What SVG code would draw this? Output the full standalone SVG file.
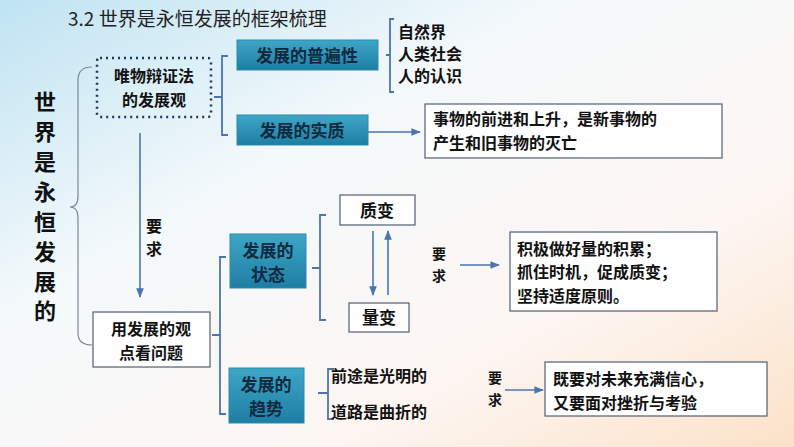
<svg xmlns="http://www.w3.org/2000/svg" width="794" height="447" viewBox="0 0 794 447">
<defs>
<linearGradient id="bg" x1="0" y1="0" x2="1" y2="1">
<stop offset="0" stop-color="#bfe3f2"/><stop offset="0.35" stop-color="#f4f9fb"/><stop offset="0.7" stop-color="#fdf6f3"/><stop offset="1" stop-color="#fbe2c8"/>
</linearGradient>
<linearGradient id="tb" x1="0" y1="0" x2="0" y2="1">
<stop offset="0" stop-color="#3fa6c6"/><stop offset="1" stop-color="#1d7ea4"/>
</linearGradient>
<marker id="ar" viewBox="0 0 10 10" refX="9" refY="5" markerWidth="6" markerHeight="6" orient="auto"><path d="M0,1 L10,5 L0,9 z" fill="#4a76b0"/></marker>
<style>
text{font-family:"Noto Sans CJK SC","Liberation Sans",sans-serif;font-weight:bold;fill:#111;font-size:16px}
.tb{fill:url(#tb);stroke:#2a8ab0;stroke-width:1}
.wb{fill:#fff;stroke:#506070;stroke-width:1.2}
.br{fill:none;stroke:#4a76b0;stroke-width:1.8}
.ln{stroke:#4a76b0;stroke-width:1.6;fill:none}
.tt{fill:#102a40;font-size:17px}
.v{font-size:22px}
</style>
</defs>
<rect width="794" height="447" fill="url(#bg)"/>
<text x="68" y="26" style="font-weight:normal;font-size:19px;fill:#222">3.2 世界是永恒发展的框架梳理</text>
<g id="root"><text class="v" x="34" y="110">世</text><text class="v" x="34" y="140">界</text><text class="v" x="34" y="170">是</text><text class="v" x="34" y="200">永</text><text class="v" x="34" y="230">恒</text><text class="v" x="34" y="260">发</text><text class="v" x="34" y="290">展</text><text class="v" x="34" y="319">的</text></g>
<g id="connectors">
<path class="br" style="stroke:#7a8a9a;stroke-width:1.2" d="M92,67 Q78,67 78,80 L78,196 Q78,207 70,207 Q78,207 78,218 L78,333 Q78,345 92,345"/>
<path class="br" d="M228,56 L222,56 L222,135 L228,135 M222,97 L214,97"/>
<path class="br" d="M394,19 L390,19 L390,92 L394,92 M390,55 L386,55"/>
<path class="br" d="M226,257 L220,257 L220,414 L226,414 M220,335 L212,335"/>
<path class="br" d="M326,215 L320,215 L320,320 L326,320 M320,268 L312,268"/>
<path class="br" d="M334,369 L328,369 L328,419 L334,419 M328,393 L318,393"/>
<line class="ln" x1="368" y1="132" x2="420" y2="132" marker-end="url(#ar)"/>
<line class="ln" x1="140" y1="133" x2="140" y2="297" marker-end="url(#ar)"/>
<line class="ln" x1="373" y1="231" x2="373" y2="295" marker-end="url(#ar)"/>
<line class="ln" x1="388" y1="295" x2="388" y2="231" marker-end="url(#ar)"/>
<line class="ln" x1="460" y1="265" x2="499" y2="265" marker-end="url(#ar)"/>
<line class="ln" x1="505" y1="390" x2="543" y2="390" marker-end="url(#ar)"/>
</g>
<g id="n1"><rect x="97" y="58" width="114" height="59" rx="3" fill="none" stroke="#1a3a5a" stroke-width="2.5" stroke-dasharray="2,4"/><text x="154" y="82" text-anchor="middle">唯物辩证法</text><text x="154" y="106" text-anchor="middle">的发展观</text></g>
<g id="n2"><rect class="tb" x="237" y="40" width="141" height="30"/><text class="tt" x="307" y="62" text-anchor="middle">发展的普遍性</text></g>
<g id="n3"><text x="398" y="38">自然界</text><text x="398" y="60">人类社会</text><text x="398" y="82">人的认识</text></g>
<g id="n4"><rect class="tb" x="237" y="115" width="131" height="30"/><text class="tt" x="302" y="137" text-anchor="middle">发展的实质</text></g>
<g id="n5"><rect class="wb" x="425" y="104" width="297" height="54"/><text x="433" y="125">事物的前进和上升，是新事物的</text><text x="433" y="149">产生和旧事物的灭亡</text></g>
<g id="n6"><text x="146" y="232">要</text><text x="146" y="255">求</text></g>
<g id="n7"><rect class="wb" x="93" y="312" width="117" height="55"/><text x="151" y="335" text-anchor="middle">用发展的观</text><text x="151" y="359" text-anchor="middle">点看问题</text></g>
<g id="n8"><rect class="tb" x="230" y="234" width="76" height="54"/><text class="tt" x="268" y="257" text-anchor="middle">发展的</text><text class="tt" x="268" y="281" text-anchor="middle">状态</text></g>
<g id="n9"><rect class="tb" x="229" y="368" width="75" height="55"/><text class="tt" x="266" y="391" text-anchor="middle">发展的</text><text class="tt" x="266" y="415" text-anchor="middle">趋势</text></g>
<g id="n10"><rect class="wb" x="340" y="195" width="75" height="30"/><text x="377" y="217" text-anchor="middle" style="font-size:17px">质变</text></g>
<g id="n11"><rect class="wb" x="349" y="303" width="60" height="29"/><text x="379" y="324" text-anchor="middle" style="font-size:17px">量变</text></g>
<g id="n12"><text x="432" y="259" style="font-size:14px">要</text><text x="432" y="281" style="font-size:14px">求</text></g>
<g id="n13"><rect class="wb" x="510" y="232" width="207" height="79"/><text x="517" y="255">积极做好量的积累；</text><text x="517" y="278">抓住时机，促成质变；</text><text x="517" y="302">坚持适度原则。</text></g>
<g id="n14"><text x="331" y="382">前途是光明的</text><text x="331" y="418">道路是曲折的</text></g>
<g id="n15"><text x="488" y="383" style="font-size:14px">要</text><text x="488" y="405" style="font-size:14px">求</text></g>
<g id="n16"><rect class="wb" x="545" y="362" width="222" height="54"/><text x="553" y="385">既要对未来充满信心，</text><text x="553" y="409">又要面对挫折与考验</text></g>
</svg>
